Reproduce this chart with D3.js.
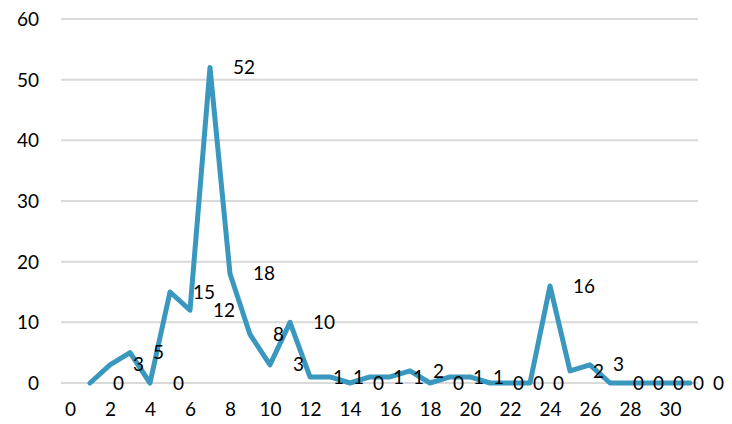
<!DOCTYPE html>
<html>
<head>
<meta charset="utf-8">
<script src="https://cdn.jsdelivr.net/npm/d3@7"></script>
<style>
  body { margin: 0; background: #fff; }
  svg text { font-family: Lato, "Open Sans", sans-serif; fill: #000; }
</style>
</head>
<body>
<svg width="732" height="424"></svg>
<script>
// day number and count for each point
var days = d3.range(1, 32);
var counts = [0, 3, 5, 0, 15, 12, 52, 18, 8, 3, 10, 1, 1, 0, 1, 1, 2, 0, 1, 1, 0, 0, 0, 16, 2, 3, 0, 0, 0, 0, 0];
var xTicks = [0, 2, 4, 6, 8, 10, 12, 14, 16, 18, 20, 22, 24, 26, 28, 30];
var yTicks = [0, 10, 20, 30, 40, 50, 60];

var data = days.map(function(d, i) { return {day: d, value: counts[i]}; });

var svg = d3.select("svg");

var x = d3.scaleLinear().domain([0, 30]).range([70, 670]);
var y = d3.scaleLinear().domain([0, 60]).range([383, 19]);

// gridlines
svg.append("g")
  .selectAll("line")
  .data(yTicks)
  .enter().append("line")
  .attr("x1", 61).attr("x2", 698)
  .attr("y1", function(d) { return y(d); })
  .attr("y2", function(d) { return y(d); })
  .attr("stroke", "#d9d9d9")
  .attr("stroke-width", 2);

// y axis labels
var yAxis = svg.append("g")
  .attr("transform", "translate(39,0)")
  .call(d3.axisLeft(y).tickValues(yTicks).tickSize(0).tickPadding(0));
yAxis.select(".domain").remove();
yAxis.selectAll("text").style("font-size", "19px").attr("dy", "0.35em");

// x axis labels
var xAxis = svg.append("g")
  .attr("transform", "translate(0,402)")
  .call(d3.axisBottom(x).tickValues(xTicks).tickSize(0).tickPadding(0));
xAxis.select(".domain").remove();
xAxis.selectAll("text").style("font-size", "19px").attr("dy", "0.71em");

var line = d3.line()
  .x(function(d) { return x(d.day); })
  .y(function(d) { return y(d.value); });

svg.append("path")
  .datum(data)
  .attr("fill", "none")
  .attr("stroke", "#3a97be")
  .attr("stroke-width", 5)
  .attr("stroke-linejoin", "round")
  .attr("stroke-linecap", "round")
  .attr("d", line);

// data labels, offset right of each point
svg.append("g")
  .selectAll("text")
  .data(data)
  .enter().append("text")
  .attr("x", function(d) { return x(d.day) + 23; })
  .attr("y", function(d) { return y(d.value); })
  .attr("dy", "0.35em")
  .style("font-size", "19px")
  .text(function(d) { return d.value; });
</script>
</body>
</html>
